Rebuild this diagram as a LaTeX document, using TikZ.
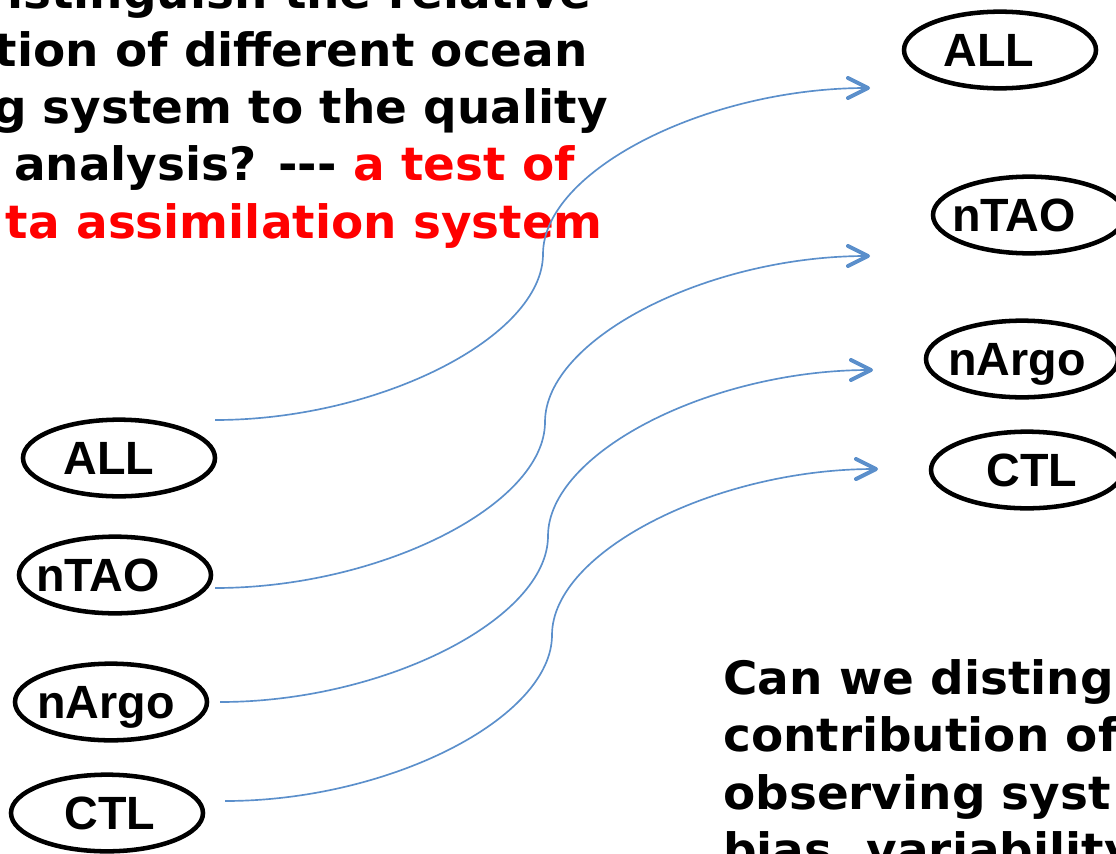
\documentclass[tikz,border=0pt]{standalone}
\usepackage{fontspec}
\setmainfont{DejaVu Sans}[FakeStretch=1.02]
\newfontfamily\labelfont{Liberation Sans}
\usetikzlibrary{arrows.meta,shapes.geometric}

\definecolor{linkblue}{HTML}{5B8FCB}

\tikzset{
    obs/.style={draw, ellipse, line width=3.4pt, minimum width=144pt, minimum height=57.5pt, inner sep=0pt},
    tag/.style={font=\labelfont\bfseries\fontsize{35}{35}\selectfont, text height=25pt, text depth=0pt, inner sep=0pt},
    quest/.style={font=\bfseries\fontsize{34.5}{43}\selectfont, inner sep=0pt},
    link/.style={linkblue, line width=1.25pt, -{Straight Barb[length=15pt, width=15pt, line width=3pt, round]}}
}

\begin{document}
\begin{tikzpicture}[x=0.75pt, y=-0.75pt]
            \useasboundingbox (0,0) rectangle (1116,853);

            \node[quest, anchor=base east] (q1) at (592, 8) {istinguish the relative};
            \node[quest, anchor=base east] (q2) at (588, 66) {tion of different ocean};
            \node[quest, anchor=base east] (q3) at (608, 123) {g system to the quality};
            \node[quest, anchor=base east] (q4) at (575, 180) {analysis? {-}{-}{-} \textcolor{red}{a test of}};
            \node[quest, anchor=base east, text=red] (q5) at (603, 238) {ta assimilation system};

            \node[quest, anchor=base west] (c1) at (723, 694) {Can we disting};
            \node[quest, anchor=base west] (c2) at (723, 751) {contribution of};
            \node[quest, anchor=base west] (c3) at (723, 809) {observing syst};
            \node[quest, anchor=base west] (c4) at (723, 866) {bias, variability};

            \node[obs, label={[tag, xshift=-7.5pt]center:ALL}] (lALL) at (119, 458) {};
            \node[obs, label={[tag, xshift=-12.75pt]center:nTAO}] (lTAO) at (115, 575) {};
            \node[obs, label={[tag, xshift=-3.75pt]center:nArgo}] (lArgo) at (111, 702) {};
            \node[obs, label={[tag, xshift=2.25pt]center:CTL}] (lCTL) at (107, 813) {};

            \node[obs, label={[tag, xshift=-8.25pt]center:ALL}] (rALL) at (1000, 50) {};
            \node[obs, label={[tag, xshift=-11.25pt]center:nTAO}] (rTAO) at (1029, 215) {};
            \node[obs, label={[tag, xshift=-3.75pt]center:nArgo}] (rArgo) at (1022, 359) {};
            \node[obs, label={[tag, xshift=3.75pt]center:CTL}] (rCTL) at (1027, 470) {};

            \coordinate (s1) at (215, 420);
            \coordinate (m1) at (543, 254);
            \coordinate (t1) at (870, 88);
            \coordinate (s2) at (215, 588);
            \coordinate (m2) at (545, 422);
            \coordinate (t2) at (870, 256);
            \coordinate (s3) at (220, 702);
            \coordinate (m3) at (548, 536);
            \coordinate (t3) at (873, 370);
            \coordinate (s4) at (225, 801);
            \coordinate (m4) at (552, 635);
            \coordinate (t4) at (878, 469);

            \draw[link] (s1) .. controls +(164,0) and +(0,83) .. (m1) .. controls +(0,-83) and +(-164,0) .. (t1);
            \draw[link] (s2) .. controls +(165,0) and +(0,83) .. (m2) .. controls +(0,-83) and +(-163,0) .. (t2);
            \draw[link] (s3) .. controls +(164,0) and +(0,83) .. (m3) .. controls +(0,-83) and +(-163,0) .. (t3);
            \draw[link] (s4) .. controls +(164,0) and +(0,83) .. (m4) .. controls +(0,-83) and +(-163,0) .. (t4);
\end{tikzpicture}
\end{document}
